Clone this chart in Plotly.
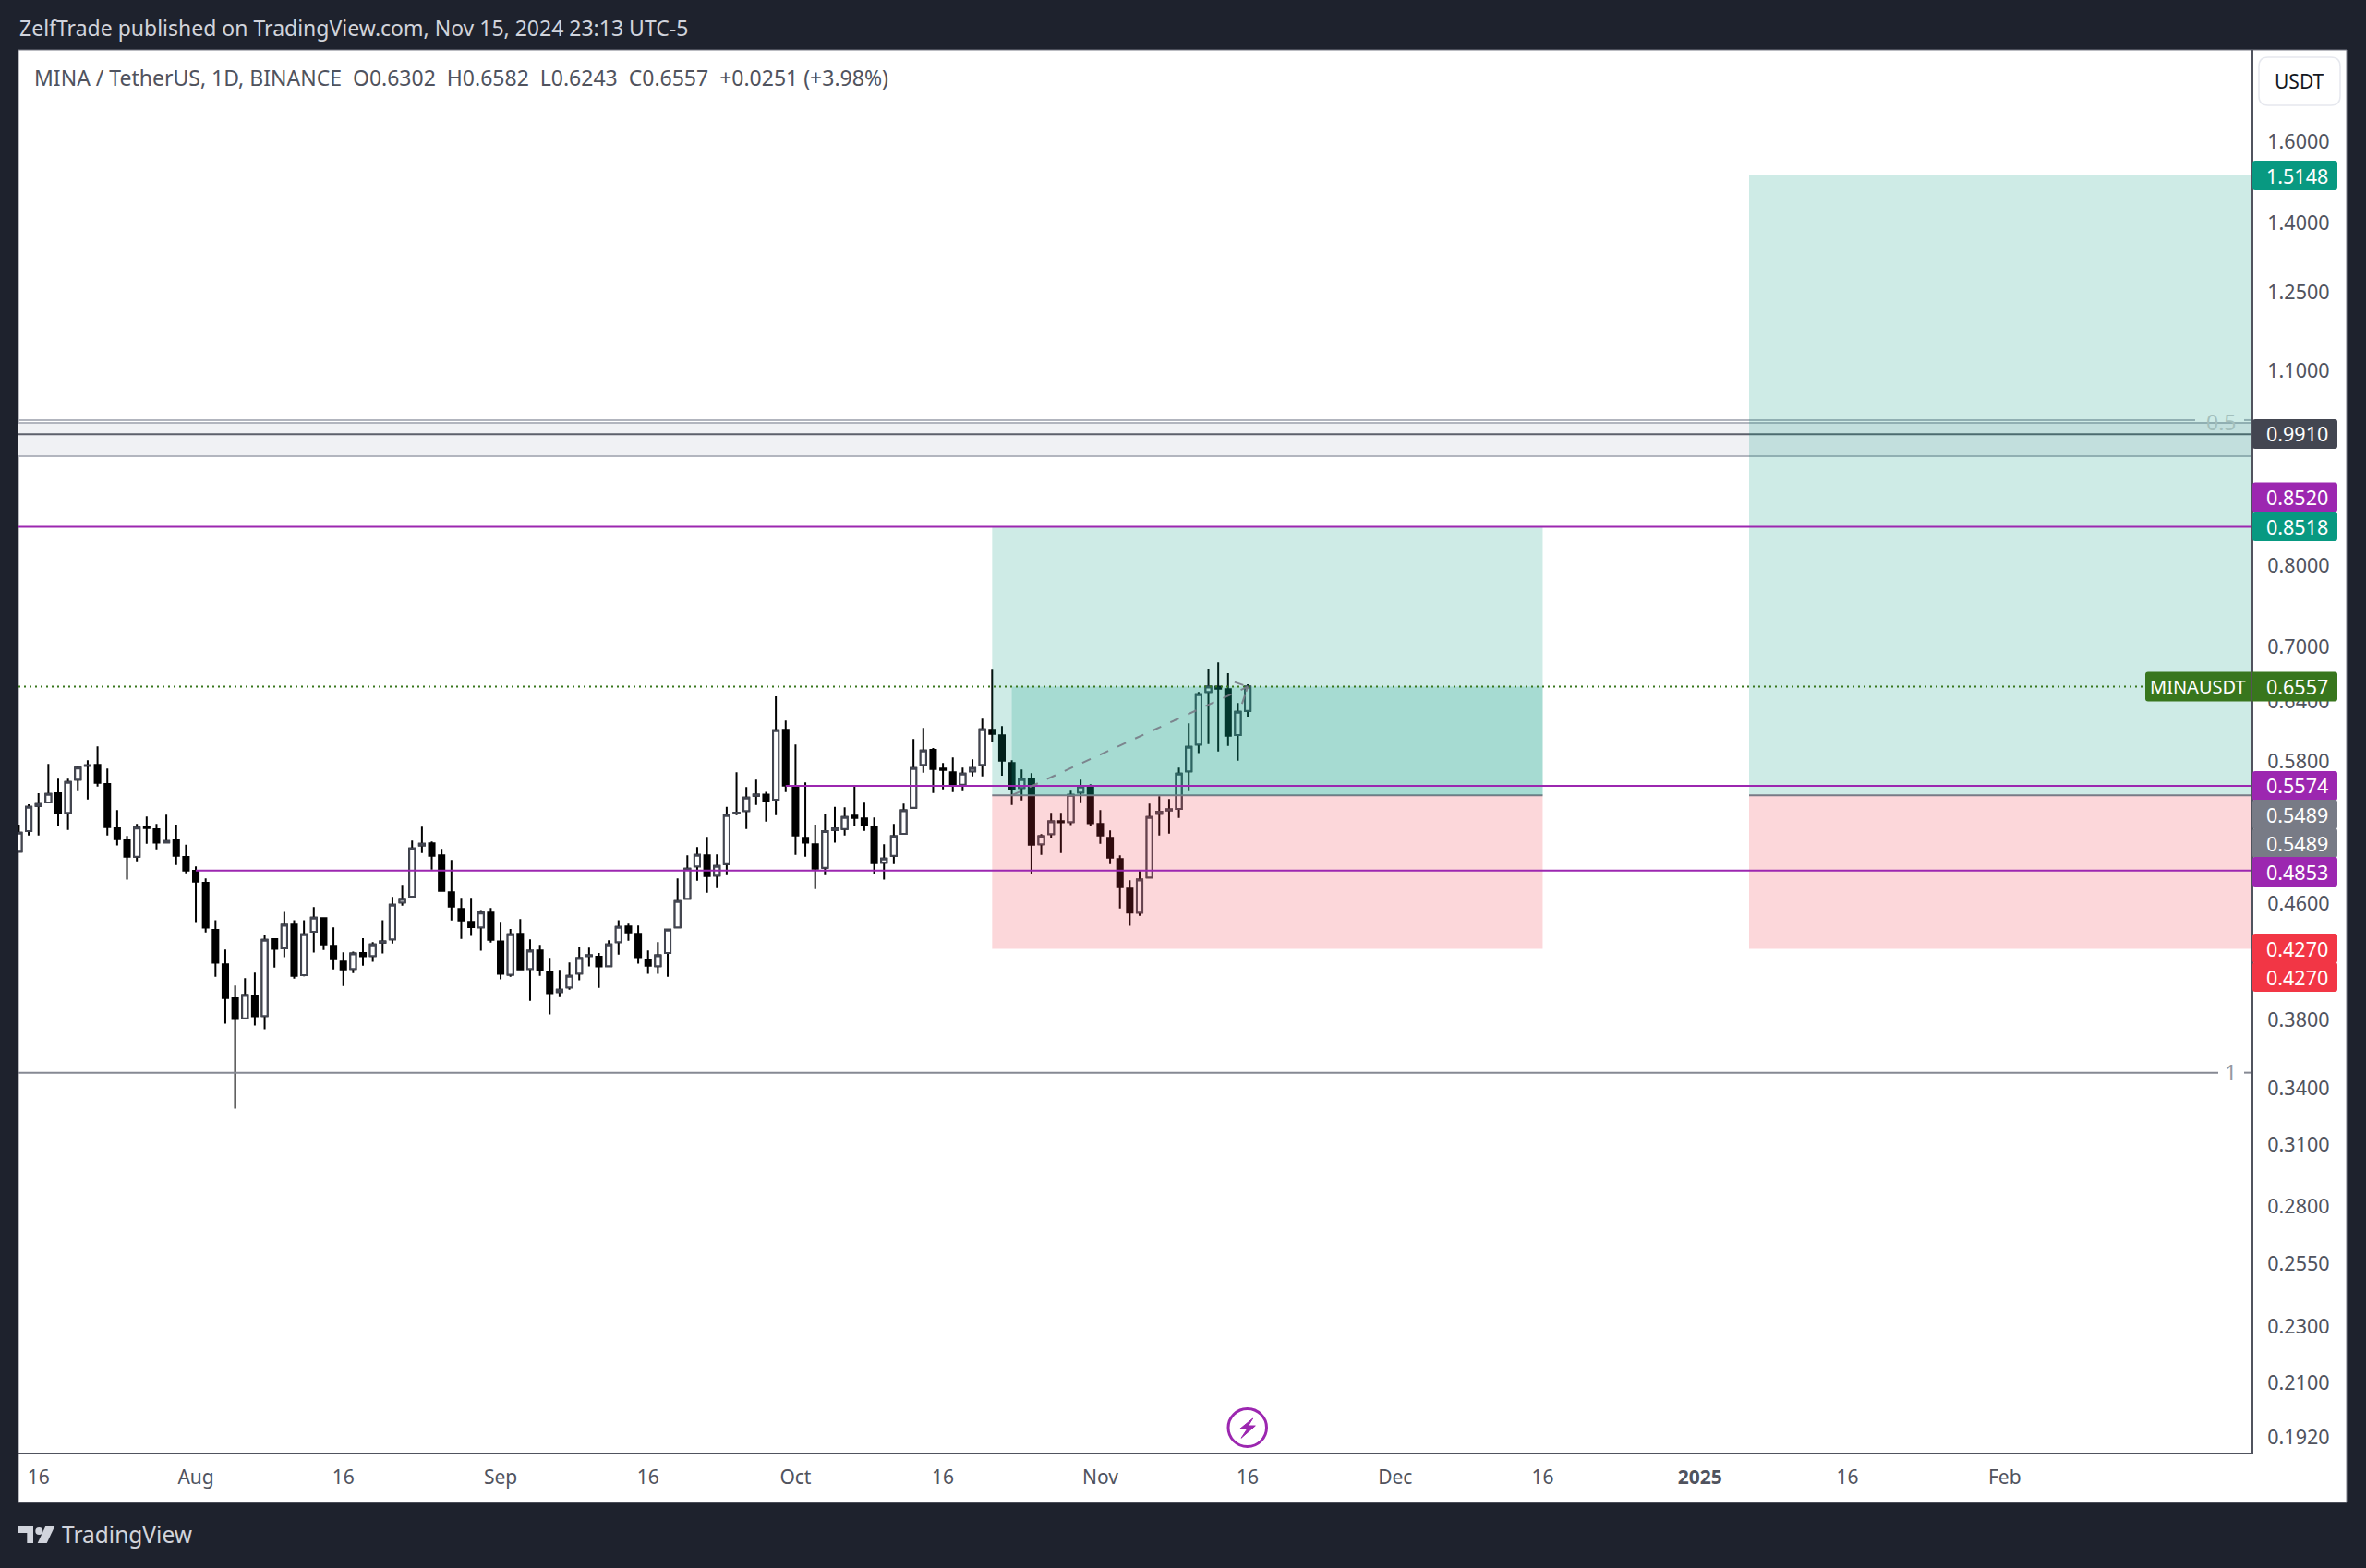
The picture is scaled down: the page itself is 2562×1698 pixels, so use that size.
import pandas as pd
import plotly.graph_objects as go

FIRST_DAY = "2024-07-14"
opens = [.5005,.5177,.5395,.5425,.5507,.5334,.5632,.5760,.5769,.5591,.5201,.5099,.4965,.5214,.5193,.5081,.5099,.4962,.4851,.4757,
 .4404,.4163,.3938,.3810,.3954,.3825,.4337,.4273,.4443,.4090,.4391,.4489,.4290,.4182,.4131,.4240,.4220,.4314,.4336,.4606,
 .4650,.5056,.5074,.4975,.4683,.4557,.4463,.4422,.4530,.4322,.4092,.4375,.4131,.4258,.4113,.3978,.4008,.4101,.4220,.4215,
 .4150,.4316,.4428,.4375,.4194,.4150,.4240,.4422,.4634,.4886,.4975,.4812,.4904,.5328,.5349,.5485,.5496,.5450,.6110,.5566,
 .5120,.5066,.4875,.5187,.5195,.5309,.5285,.5214,.4915,.4971,.5154,.5379,.5769,.5913,.5735,.5700,.5586,.5709,.5769,.6110,
 .6055,.5787,.5555,.5640,.5066,.5151,.5262,.5254,.5513,.5564,.5238,.5120,.4945,.4712,.4530,.4798,.5326,.5355,.5367,.5709,
 .5964,.6501,.6557,.6530,.6058,.6302]
highs = [.5232,.5409,.5507,.5778,.5640,.5640,.5760,.5813,.5946,.5735,.5358,.5136,.5238,.5302,.5238,.5318,.5232,.5062,.4886,.4791,
 .4475,.4265,.4020,.4069,.4107,.4364,.4343,.4536,.4475,.4475,.4571,.4496,.4422,.4246,.4250,.4345,.4316,.4475,.4648,.4740,
 .5097,.5214,.5089,.5028,.4937,.4641,.4641,.4550,.4564,.4463,.4411,.4482,.4336,.4297,.4207,.4125,.4176,.4284,.4277,.4240,
 .4329,.4475,.4449,.4435,.4258,.4316,.4410,.4791,.4975,.5043,.5128,.4983,.5387,.5700,.5564,.5632,.5520,.6455,.6203,.5964,
 .5606,.5232,.5326,.5387,.5382,.5566,.5423,.5293,.5066,.5238,.5415,.6018,.6129,.5931,.5787,.5839,.5743,.5822,.6222,.6741,
 .6147,.5813,.5726,.5691,.5151,.5334,.5334,.5530,.5632,.5589,.5358,.5182,.4975,.4776,.4849,.5415,.5480,.5456,.5743,.6175,
 .6501,.6752,.6824,.6703,.6385,.6582]
lows = [.5000,.5140,.5140,.5420,.5219,.5187,.5526,.5452,.5569,.5140,.5056,.4781,.4927,.5071,.5025,.5075,.4897,.4831,.4460,.4386,
 .4079,.3777,.3287,.3806,.3766,.3744,.4141,.4211,.4067,.4082,.4243,.4262,.4129,.4018,.4104,.4154,.4180,.4237,.4307,.4582,
 .4645,.4995,.4860,.4690,.4473,.4340,.4360,.4256,.4314,.4061,.4079,.4125,.3921,.4085,.3835,.3946,.3994,.4055,.4148,.4006,
 .4148,.4230,.4327,.4167,.4098,.4098,.4079,.4418,.4630,.4773,.4680,.4716,.4816,.5314,.5195,.5403,.5258,.5314,.5518,.4980,
 .4965,.4708,.4816,.5079,.5140,.5219,.5179,.4824,.4781,.4904,.5150,.5375,.5696,.5510,.5543,.5518,.5526,.5662,.5662,.5985,
 .5668,.5403,.5444,.4829,.4980,.5117,.4995,.5227,.5419,.5219,.5071,.4904,.4561,.4433,.4507,.4795,.5140,.5156,.5290,.5526,
 .5881,.5970,.5898,.5951,.5810,.6243]
closes = [.5164,.5387,.5411,.5501,.5330,.5611,.5743,.5766,.5602,.5210,.5109,.4965,.5206,.5203,.5079,.5094,.4972,.4853,.4766,.4420,
 .4173,.3940,.3806,.3958,.3823,.4333,.4269,.4440,.4085,.4373,.4493,.4300,.4198,.4129,.4237,.4218,.4300,.4322,.4589,.4632,
 .5033,.5071,.4972,.4695,.4575,.4473,.4424,.4530,.4333,.4098,.4373,.4129,.4256,.4123,.3970,.3994,.4085,.4205,.4224,.4148,
 .4300,.4425,.4386,.4211,.4154,.4224,.4406,.4617,.4868,.4980,.4809,.4890,.5314,.5336,.5469,.5496,.5436,.6106,.5577,.5140,
 .5079,.4868,.5177,.5198,.5298,.5290,.5227,.4912,.4949,.5134,.5355,.5739,.5907,.5731,.5722,.5586,.5688,.5739,.6116,.6069,
 .5810,.5543,.5636,.5063,.5134,.5259,.5251,.5493,.5569,.5243,.5140,.4957,.4723,.4530,.4781,.5298,.5344,.5363,.5688,.5942,
 .6477,.6557,.6537,.6051,.6294,.6557]

price_ticks = [1.6, 1.4, 1.25, 1.1, 0.8, 0.7, 0.64, 0.58, 0.46, 0.38, 0.34, 0.31, 0.28, 0.255, 0.23, 0.21, 0.192]
date_ticks = ["2024-07-16","2024-08-01","2024-08-16","2024-09-01","2024-09-16","2024-10-01","2024-10-16","2024-11-01",
              "2024-11-16","2024-12-01","2024-12-16","2025-01-01","2025-01-16","2025-02-01"]
date_labels = ["16","Aug","16","Sep","16","Oct","16","Nov","16","Dec","16","<b>2025</b>","16","Feb"]

W, H = 2562, 1698
L, R, T, B = 20, 124, 54, 125
FONT = "Noto Sans"
PW, PH = W - L - R, H - T - B
fx = lambda px: (px - L) / PW
fy = lambda py: 1 - (py - T) / PH

dates = pd.date_range(FIRST_DAY, periods=len(opens), freq="D")
hollow = [i for i in range(len(opens)) if closes[i] >= opens[i]]

fig = go.Figure()
fig.add_trace(go.Candlestick(
    x=dates, open=opens, high=highs, low=lows, close=closes, hoverinfo="skip", showlegend=False,
    increasing=dict(line=dict(color="#000000", width=2), fillcolor="#000000"),
    decreasing=dict(line=dict(color="#000000", width=2), fillcolor="#000000")))
fig.add_trace(go.Candlestick(
    x=[dates[i] for i in hollow], open=[opens[i] for i in hollow], close=[closes[i] for i in hollow],
    high=[max(opens[i], closes[i]) for i in hollow], low=[min(opens[i], closes[i]) for i in hollow],
    hoverinfo="skip", showlegend=False,
    increasing=dict(line=dict(color="#434651", width=2), fillcolor="#FFFFFF"),
    decreasing=dict(line=dict(color="#434651", width=2), fillcolor="#FFFFFF")))

shapes = []
annos = []

def rect_px(x0, y0, x1, y1, fill, line=None, lw=0, layer="above", r=0):
    if r:
        X0, X1, Y0, Y1 = fx(x0), fx(x1), fy(y0), fy(y1)
        rx, ry = r / PW, r / PH
        path = (f"M {X0+rx} {Y0} L {X1-rx} {Y0} Q {X1} {Y0} {X1} {Y0-ry} L {X1} {Y1+ry} Q {X1} {Y1} {X1-rx} {Y1} "
                f"L {X0+rx} {Y1} Q {X0} {Y1} {X0} {Y1+ry} L {X0} {Y0-ry} Q {X0} {Y0} {X0+rx} {Y0} Z")
        shapes.append(dict(type="path", xref="paper", yref="paper", path=path, fillcolor=fill,
                           line=dict(width=lw, color=line or fill), layer=layer))
    else:
        shapes.append(dict(type="rect", xref="paper", yref="paper", x0=fx(x0), x1=fx(x1), y0=fy(y0), y1=fy(y1),
                           fillcolor=fill, line=dict(width=lw, color=line or fill), layer=layer))

def text_px(x, y, s, size, color, anchor="left", family=FONT):
    annos.append(dict(xref="paper", yref="paper", x=fx(x), y=fy(y), text=s, showarrow=False, xanchor=anchor,
                      yanchor="middle", font=dict(family=family, size=size, color=color), borderpad=0))

def box_d(x0, x1, y0, y1, fill, line=None, lw=0):
    shapes.append(dict(type="rect", xref="x", yref="y", x0=x0, x1=x1, y0=y0, y1=y1, fillcolor=fill,
                       line=dict(width=lw, color=line or fill), layer="above"))

def hline(y, color, x0=None, x1=None, lw=2, dash="solid", px0=None, px1=None):
    d = dict(type="line", yref="y", y0=y, y1=y, line=dict(color=color, width=lw, dash=dash), layer="above")
    if x0 is not None:
        d.update(xref="x", x0=x0, x1=x1 if x1 else "2025-03-10")
    else:
        d.update(xref="paper", x0=fx(px0), x1=fx(px1))
    shapes.append(d)

# chrome
rect_px(20, 54, 2541, 1627, "#FFFFFF", "#787B86", 1, "below")

# support/resistance zone and fib levels
box_d("2024-01-01", "2025-03-10", 0.9562, 1.0096, "#F0F1F4", "#B2B5BE", 2)
hline(1.0143, "#B2B5BE", px0=20, px1=2377)
hline(1.0143, "#B2B5BE", px0=2430, px1=2438)
hline(0.3486, "#868993", px0=20, px1=2402)
hline(0.3486, "#868993", px0=2430, px1=2438)
hline(0.9910, "#5D606B", "2024-01-01")

# position boxes
for left, right, top in [("2024-10-21", "2024-12-16", 0.8518), ("2025-01-06", "2025-03-10", 1.5148)]:
    box_d(left, right, 0.5489, top, "rgba(8,153,129,0.2)")
    box_d(left, right, 0.4270, 0.5489, "rgba(242,54,69,0.2)")
    hline(0.5489, "#787B86", left, right)
box_d("2024-10-23", "2024-12-16", 0.5489, 0.6557, "rgba(8,153,129,0.2)")

# levels
hline(0.8518, "#9C27B0", "2024-01-01")
hline(0.5574, "#9C27B0", "2024-09-30")
hline(0.4853, "#9C27B0", "2024-08-01")
hline(0.6557, "#38761D", px0=20, px1=2323, dash="2px,4px")

# forecast arrow
arrow = dict(color="rgba(120,123,134,0.9)", width=2)
shapes.append(dict(type="line", xref="x", yref="y", x0="2024-10-23", x1="2024-11-16", y0=0.5489, y1=0.6557,
                   line=dict(dash="10px,11px", **arrow), layer="above"))
shapes.append(dict(type="line", xref="x", yref="y", x0="2024-11-14 16:00", x1="2024-11-16", y0=0.6607, y1=0.6557,
                   line=dict(dash="10px,4px", **arrow), layer="above"))
shapes.append(dict(type="line", xref="x", yref="y", x0="2024-11-15 10:00", x1="2024-11-16", y0=0.6376, y1=0.6557,
                   line=dict(dash="10px,4px", **arrow), layer="above"))

text_px(2405, 457, "0.5", 23, "#A3BFBC", "center")
text_px(2415, 1161, "1", 23, "#9598A1", "center")

# price pills
pills = [(190, "1.5148", "#089981"), (470, "0.9910", "#434651"), (538.5, "0.8520", "#9C27B0"), (570, "0.8518", "#089981"),
         (851, "0.5574", "#9C27B0"), (882, "0.5489", "#787B86"), (913, "0.5489", "#787B86"), (944, "0.4853", "#9C27B0"),
         (1027, "0.4270", "#F23645"), (1058, "0.4270", "#F23645")]
for yc, s, c in pills:
    rect_px(2439, yc - 16, 2531, yc + 16, c, r=3)
rect_px(2323, 727.5, 2531, 759.5, "#38761D", r=3)
shapes.append(dict(type="line", xref="paper", yref="paper", x0=fx(2438), x1=fx(2438), y0=fy(727.5), y1=fy(759.5),
                   line=dict(color="#555555", width=2), layer="above"))
for yc, s, c in pills:
    text_px(2487.5, yc, s, 21.5, "#FFFFFF", "center")
text_px(2487.5, 743.5, "0.6557", 21.5, "#FFFFFF", "center")
text_px(2380, 743.5, "MINAUSDT", 20, "#FFFFFF", "center")

# USDT button
rect_px(2446, 62, 2534, 114, "#FFFFFF", "#E6E8EE", 1.5, r=10)
text_px(2490, 88, "USDT", 21, "#131722", "center")

# header & legend
text_px(20, 30, "ZelfTrade published on TradingView.com, Nov 15, 2024 23:13 UTC-5", 23, "#D1D4DC")
text_px(36, 84, "MINA / TetherUS, 1D, BINANCE\u00a0\u00a0O0.6302\u00a0\u00a0H0.6582\u00a0\u00a0L0.6243\u00a0\u00a0C0.6557\u00a0\u00a0+0.0251 (+3.98%)",
        23, "#50535E")

# lightning icon
shapes.append(dict(type="circle", xref="paper", yref="paper", x0=fx(1330), x1=fx(1371.5), y0=fy(1525.5), y1=fy(1566.5),
                   fillcolor="rgba(0,0,0,0)", line=dict(color="#9C27B0", width=3), layer="above"))
bolt = [(1356.7,1536),(1342.7,1547.3),(1350.7,1547.3),(1344,1557.3),(1359.3,1544),(1351.7,1544)]
shapes.append(dict(type="path", xref="paper", yref="paper", layer="above", fillcolor="#9C27B0",
                   line=dict(width=1, color="#9C27B0"),
                   path="M " + " L ".join(f"{fx(a)} {fy(b)}" for a, b in bolt) + " Z"))

# TradingView logo
logo = "#D1D4DC"
def poly(pts):
    shapes.append(dict(type="path", xref="paper", yref="paper", layer="above", fillcolor=logo, line=dict(width=0),
                       path="M " + " L ".join(f"{fx(a)} {fy(b)}" for a, b in pts) + " Z"))
poly([(20,1652.7),(36,1652.7),(36,1671),(29.3,1671),(29.3,1660),(20,1660)])
poly([(49.3,1652.7),(59.3,1652.7),(50.7,1671),(40.7,1671)])
shapes.append(dict(type="circle", xref="paper", yref="paper", x0=fx(38.3), x1=fx(46.3), y0=fy(1654), y1=fy(1662),
                   fillcolor=logo, line=dict(width=0), layer="above"))
text_px(66, 1661, "TradingView", 24.5, logo)

fig.update_layout(
    width=W, height=H, margin=dict(l=L, r=R, t=T, b=B, pad=0), autosize=False,
    paper_bgcolor="#1E222D", plot_bgcolor="#FFFFFF", showlegend=False,
    boxmode="overlay", boxgap=0.43, boxgroupgap=0,
    shapes=shapes, annotations=annos, font=dict(family=FONT),
    xaxis=dict(type="date", range=["2024-07-13 23:03", "2025-02-26 02:24"], rangeslider=dict(visible=False),
               tickmode="array", tickvals=date_ticks, ticktext=date_labels, showgrid=False, zeroline=False,
               showline=True, linecolor="#50535E", linewidth=2, ticks="outside", ticklen=7, tickcolor="rgba(0,0,0,0)",
               tickfont=dict(family=FONT, size=21, color="#50535E")),
    yaxis=dict(type="log", side="right", range=[-0.72767, 0.26933], tickmode="array",
               tickvals=price_ticks, ticktext=[f"{v:.4f}" for v in price_ticks], showgrid=False, zeroline=False,
               showline=True, linecolor="#50535E", linewidth=2, ticks="outside", ticklen=11, tickcolor="rgba(0,0,0,0)",
               tickfont=dict(family=FONT, size=21.5, color="#50535E")),
)
fig.write_html("out.html", config=dict(displayModeBar=False),
               post_script="document.body.style.margin='0';document.body.style.overflow='hidden';")
